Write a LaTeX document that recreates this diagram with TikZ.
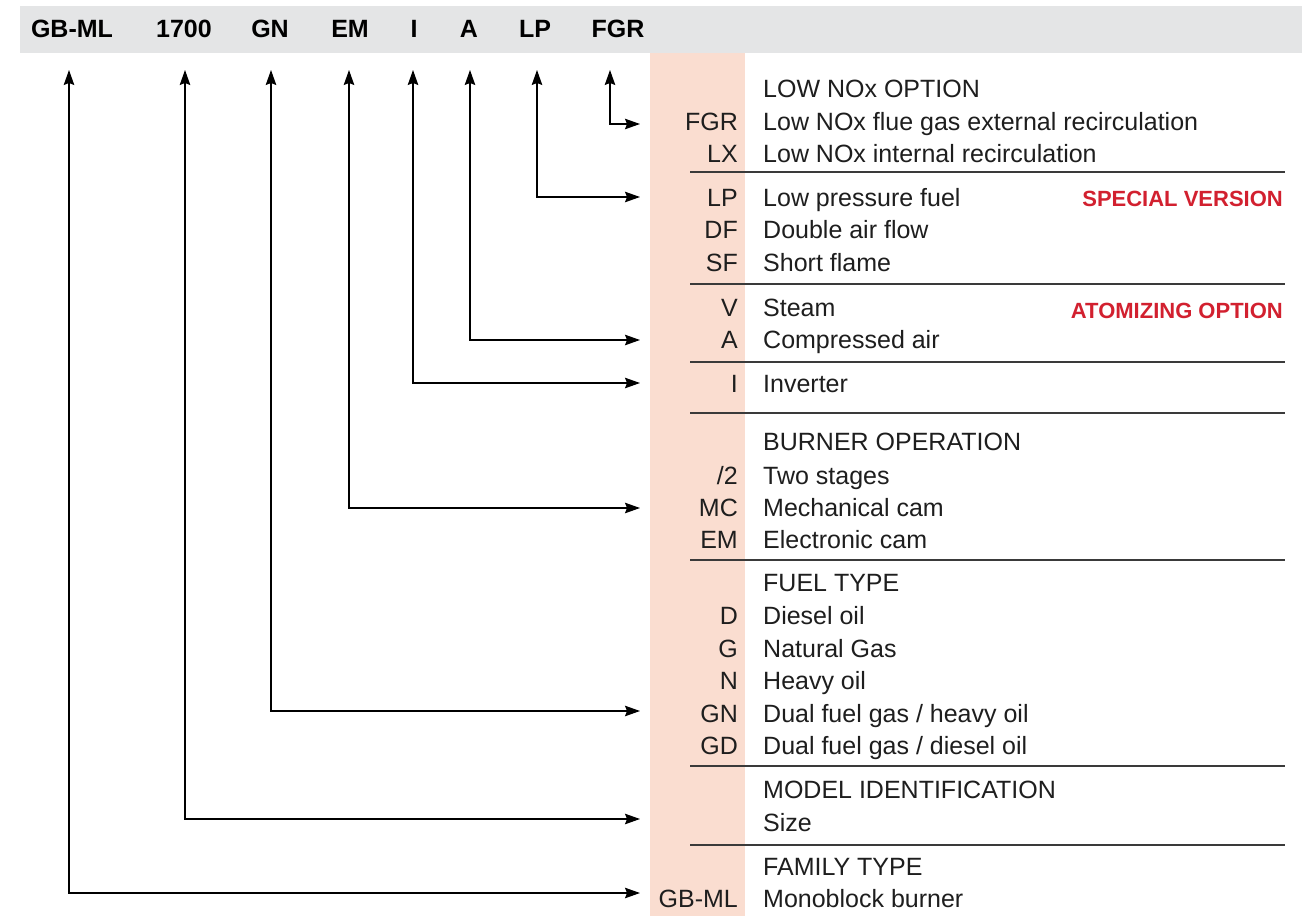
\documentclass[tikz,border=0pt]{standalone}
\usepackage{fontspec}
\setmainfont{Liberation Sans}
\usetikzlibrary{arrows.meta}
\definecolor{hdrgray}{HTML}{E4E5E6}
\definecolor{salmon}{HTML}{FADDD0}
\definecolor{redlbl}{HTML}{D2202F}
\definecolor{txt}{HTML}{1E1E1E}
\definecolor{sepline}{HTML}{3A3A3A}
\begin{document}
\begin{tikzpicture}[x=1pt,y=-1pt,
  hdr/.style={anchor=base, font=\fontsize{25}{30}\selectfont\bfseries, text=black, inner sep=0pt},
  code/.style={anchor=base east, font=\fontsize{25}{29}\selectfont, text=txt, inner sep=0pt},
  desc/.style={anchor=base west, font=\fontsize{25}{29}\selectfont, text=txt, inner sep=0pt},
  redlabel/.style={anchor=base east, font=\fontsize{22}{26}\selectfont\bfseries, text=redlbl, inner sep=0pt},
  tipA/.tip={Stealth[length=15pt,width=10.5pt,inset=2pt]},
  conn/.style={line width=1.2pt, draw=black, tipA-tipA},
  sepr/.style={line width=1.3pt, draw=sepline}]
\useasboundingbox (0,0) rectangle (1302,916);
\fill[white] (0,0) rectangle (1302,916);
% bands
\fill[hdrgray] (20,6) rectangle (1302,53);
\fill[salmon] (650,53) rectangle (745,916);
% header labels
\node[hdr] (hGB)   at (72,37)  {GB-ML};
\node[hdr] (h1700) at (184,37) {1700};
\node[hdr] (hGN)   at (270,37) {GN};
\node[hdr] (hEM)   at (350,37) {EM};
\node[hdr] (hI)    at (414,37) {I};
\node[hdr] (hA)    at (469,37) {A};
\node[hdr] (hLP)   at (535,37) {LP};
\node[hdr] (hFGR)  at (618,37) {FGR};
% arrow tips (top)
\coordinate (tGB)   at (69,70);
\coordinate (t1700) at (185,70);
\coordinate (tGN)   at (271,70);
\coordinate (tEM)   at (349,70);
\coordinate (tI)    at (413,70);
\coordinate (tA)    at (470,70);
\coordinate (tLP)   at (537,70);
\coordinate (tFGR)  at (610,70);
% arrow ends (right)
\coordinate (eFGR)  at (640,124);
\coordinate (eLP)   at (640,197);
\coordinate (eA)    at (640,340);
\coordinate (eI)    at (640,383);
\coordinate (eEM)   at (640,508);
\coordinate (eGN)   at (640,711);
\coordinate (e1700) at (640,819);
\coordinate (eGB)   at (640,893);
% connectors
\draw[conn] (tFGR) |- (eFGR);
\draw[conn] (tLP) |- (eLP);
\draw[conn] (tA) |- (eA);
\draw[conn] (tI) |- (eI);
\draw[conn] (tEM) |- (eEM);
\draw[conn] (tGN) |- (eGN);
\draw[conn] (t1700) |- (e1700);
\draw[conn] (tGB) |- (eGB);
% separators
\foreach \yy in {172,284,362,413,560,766,845}
  \draw[sepr] (690,\yy) -- (1285,\yy);
% LOW NOx OPTION
\node[desc] (dLow) at (763,97) {LOW NOx OPTION};
\node[code] (cFGR) at (738,130) {FGR};
\node[desc] (dFGR) at (763,130) {Low NOx flue gas external recirculation};
\node[code] (cLX) at (738,162) {LX};
\node[desc] (dLX) at (763,162) {Low NOx internal recirculation};
% SPECIAL VERSION
\node[code] (cLP) at (738,206) {LP};
\node[desc] (dLP) at (763,206) {Low pressure fuel};
\node[redlabel] (rSV) at (1283,206) {SPECIAL VERSION};
\node[code] (cDF) at (738,238) {DF};
\node[desc] (dDF) at (763,238) {Double air flow};
\node[code] (cSF) at (738,271) {SF};
\node[desc] (dSF) at (763,271) {Short flame};
% ATOMIZING
\node[code] (cV) at (738,316) {V};
\node[desc] (dV) at (763,316) {Steam};
\node[redlabel] (rAO) at (1283,318) {ATOMIZING OPTION};
\node[code] (cA) at (738,348) {A};
\node[desc] (dA) at (763,348) {Compressed air};
% Inverter
\node[code] (cI) at (738,392) {I};
\node[desc] (dI) at (763,392) {Inverter};
% BURNER OPERATION
\node[desc] (dBO) at (763,450) {BURNER OPERATION};
\node[code] (c2) at (738,484) {/2};
\node[desc] (d2) at (763,484) {Two stages};
\node[code] (cMC) at (738,516) {MC};
\node[desc] (dMC) at (763,516) {Mechanical cam};
\node[code] (cEM) at (738,548) {EM};
\node[desc] (dEM) at (763,548) {Electronic cam};
% FUEL TYPE
\node[desc] (dFT) at (763,591) {FUEL TYPE};
\node[code] (cD) at (738,624) {D};
\node[desc] (dD) at (763,624) {Diesel oil};
\node[code] (cG) at (738,657) {G};
\node[desc] (dG) at (763,657) {Natural Gas};
\node[code] (cN) at (738,689) {N};
\node[desc] (dN) at (763,689) {Heavy oil};
\node[code] (cGN) at (738,722) {GN};
\node[desc] (dGN) at (763,722) {Dual fuel gas / heavy oil};
\node[code] (cGD) at (738,754) {GD};
\node[desc] (dGD) at (763,754) {Dual fuel gas / diesel oil};
% MODEL IDENTIFICATION
\node[desc] (dMI) at (763,798) {MODEL IDENTIFICATION};
\node[desc] (dSize) at (763,831) {Size};
% FAMILY TYPE
\node[desc] (dFam) at (763,875) {FAMILY TYPE};
\node[code] (cGB) at (738,907) {GB-ML};
\node[desc] (dGB) at (763,907) {Monoblock burner};
\end{tikzpicture}
\end{document}
